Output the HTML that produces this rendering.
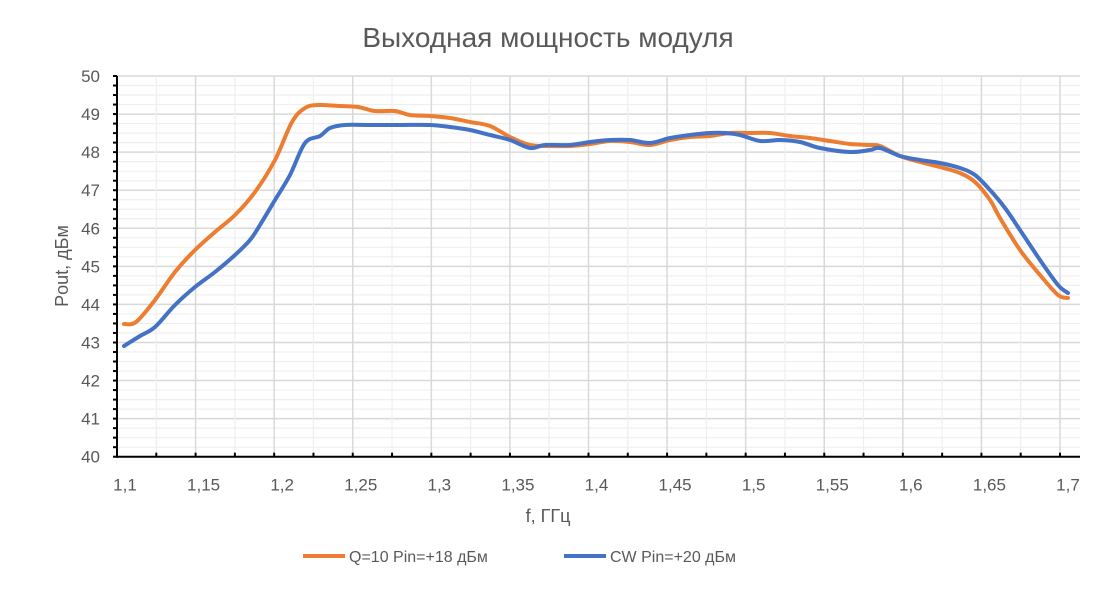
<!DOCTYPE html>
<html><head><meta charset="utf-8"><style>body{margin:0;background:#fff}svg{display:block}text{font-family:"Liberation Sans",sans-serif;fill:#595959}</style></head><body>
<svg width="1096" height="609" xmlns="http://www.w3.org/2000/svg">
<rect width="1096" height="609" fill="#fff"/>
<text x="548" y="47" font-size="28" text-anchor="middle">Выходная мощность модуля</text>
<g id="grid"></g>
<g stroke="#000" stroke-width="2" id="axes"></g>
<g font-size="17" id="labels"></g>
<text x="548" y="522" font-size="18" text-anchor="middle">f, ГГц</text>
<text transform="translate(68,266) rotate(-90)" font-size="18" text-anchor="middle">Pout, дБм</text>
<path id="o" fill="none" stroke="#ED7D31" stroke-width="4" stroke-linejoin="round" stroke-linecap="round"/>
<path id="b" fill="none" stroke="#4472C4" stroke-width="4" stroke-linejoin="round" stroke-linecap="round"/>
<line x1="303" y1="556" x2="345" y2="556" stroke="#ED7D31" stroke-width="4"/>
<text x="349" y="562" font-size="16">Q=10 Pin=+18 дБм</text>
<line x1="564" y1="556" x2="606" y2="556" stroke="#4472C4" stroke-width="4"/>
<text x="610" y="562" font-size="16">CW Pin=+20 дБм</text>
</svg>
<script>
var ns="http://www.w3.org/2000/svg",g=document.getElementById("grid"),a=document.getElementById("axes"),l=document.getElementById("labels");
function el(p,t,at,tx){var e=document.createElementNS(ns,t);for(var k in at)e.setAttribute(k,at[k]);if(tx)e.textContent=tx;p.appendChild(e);}
var x0=117,x1=1060,yT=76,yB=456.7;
for(var i=0;i<=40;i++){var y=yB-i*(yB-yT)/40;el(g,"line",{x1:x0,x2:1080,y1:y,y2:y,stroke:i%4==0?"#d9d9d9":"#efefef","stroke-width":i%4==0?1.5:1.2});
el(a,"line",{x1:x0-4,x2:x0,y1:y,y2:y});
if(i%4==0)el(l,"text",{x:100,y:y+6,"text-anchor":"end"},String(40+i/4));}
for(var j=0;j<=24;j++){var x=x0+j*(x1-x0)/24;el(g,"line",{x1:x,x2:x,y1:yT,y2:yB,stroke:j%2==0?"#d9d9d9":"#efefef","stroke-width":j%2==0?1.5:1.2});
el(a,"line",{x1:x,x2:x,y1:yB,y2:yB-4});
if(j%2==0){var f=(1.1+j*0.025);var s=(Math.round(f*100)/100).toString().replace(".",",");el(l,"text",{x:x+8,y:yB+34,"text-anchor":"middle"},s);}}
el(a,"line",{x1:x0,x2:x0,y1:yT,y2:yB+1});el(a,"line",{x1:x0-1,x2:1080,y1:yB,y2:yB});
function smooth(s){var p=s.trim().split(/\s+/).map(function(q){return q.split(",").map(Number)});var d="M"+p[0];
for(var i=0;i < p.length-1;i++){var p0=p[i-1]||p[i],p1=p[i],p2=p[i+1],p3=p[i+2]||p2;
d+=" C"+(p1[0]+(p2[0]-p0[0])/6)+","+(p1[1]+(p2[1]-p0[1])/6)+" "+(p2[0]-(p3[0]-p1[0])/6)+","+(p2[1]-(p3[1]-p1[1])/6)+" "+p2;}return d;}
document.getElementById("o").setAttribute("d",smooth("124,324 136,322 155,300 175,272 195,250 215,232 235,215 255,192 275,160 292,122 305,108 318,105 340,106 358,107 375,111 395,111 410,115 430,116 450,118 470,122 490,126 510,137 530,145 550,146 570,146 590,144 610,141 630,142 650,145 670,140 690,137 710,136 730,133 750,133 770,133 790,136 810,138 830,141 850,144 870,145 880,146 900,156 920,162 940,167 960,173 975,182 990,200 1000,218 1020,250 1040,275 1058,295 1068,298"));
document.getElementById("b").setAttribute("d",smooth("124,346 140,336 155,327 175,305 195,287 215,272 235,255 250,240 260,225 275,200 290,175 305,143 320,136 330,128 345,125 370,125 400,125 430,125 450,127 470,130 490,135 510,140 530,148 545,145 570,145 590,142 610,140 630,140 650,143 670,138 690,135 710,133 725,133 740,135 760,141 780,140 800,142 820,148 850,152 870,150 880,148 900,156 920,160 940,163 960,168 975,175 990,190 1005,208 1020,230 1040,260 1058,285 1068,293"));
</script>
</body></html>
